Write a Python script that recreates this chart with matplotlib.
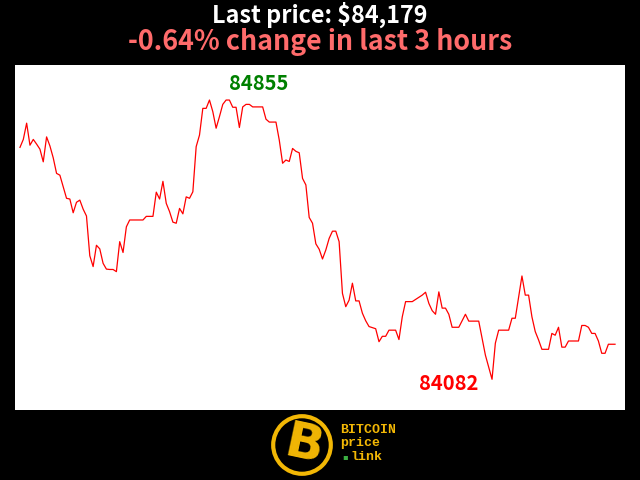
import matplotlib
matplotlib.use("Agg")
import matplotlib.pyplot as plt
from matplotlib.patches import Circle

# minutes since start of the 3 hour window, and price at each minute
minutes = [0, 1, 2, 3, 4, 5, 6, 7, 8, 9, 10, 11, 12, 13, 14, 15, 16, 17, 18, 19,
           20, 21, 22, 23, 24, 25, 26, 27, 28, 29, 30, 31, 32, 33, 34, 35, 36, 37,
           38, 39, 40, 41, 42, 43, 44, 45, 46, 47, 48, 49, 50, 51, 52, 53, 54, 55,
           56, 57, 58, 59, 60, 61, 62, 63, 64, 65, 66, 67, 68, 69, 70, 71, 72, 73,
           74, 75, 76, 77, 78, 79, 80, 81, 82, 83, 84, 85, 86, 87, 88, 89, 90, 91,
           92, 93, 94, 95, 96, 97, 98, 99, 100, 101, 102, 103, 104, 105, 107, 108,
           109, 110, 111, 112, 113, 114, 115, 116, 117, 118, 119, 121, 122, 123,
           124, 125, 126, 127, 128, 129, 130, 131, 132, 134, 135, 136, 137, 138,
           140, 142, 143, 144, 145, 146, 147, 148, 149, 150, 151, 152, 153, 154,
           155, 156, 157, 158, 159, 160, 161, 162, 163, 164, 165, 166, 167, 168,
           169, 170, 171, 172, 173, 174, 175, 176, 177, 179]
prices = [84724, 84746, 84791, 84730, 84746, 84733, 84719, 84684, 84753, 84728,
          84695, 84652, 84647, 84615, 84583, 84581, 84543, 84572, 84578, 84553,
          84534, 84424, 84394, 84453, 84443, 84403, 84387, 84386, 84386, 84380,
          84463, 84433, 84504, 84523, 84523, 84523, 84523, 84523, 84533, 84533,
          84533, 84600, 84581, 84630, 84569, 84546, 84517, 84514, 84555, 84540,
          84587, 84583, 84601, 84726, 84758, 84832, 84832, 84855, 84823, 84777,
          84809, 84843, 84855, 84855, 84835, 84835, 84779, 84836, 84843, 84843,
          84836, 84836, 84836, 84836, 84802, 84794, 84794, 84794, 84744, 84680,
          84689, 84685, 84721, 84713, 84709, 84638, 84620, 84530, 84514, 84457,
          84442, 84415, 84440, 84472, 84492, 84492, 84463, 84320, 84283, 84301,
          84348, 84299, 84299, 84265, 84244, 84228, 84222, 84186, 84201, 84201,
          84218, 84218, 84218, 84192, 84255, 84297, 84297, 84297, 84303, 84315,
          84323, 84292, 84272, 84262, 84324, 84279, 84279, 84262, 84226, 84226,
          84226, 84262, 84243, 84243, 84243, 84243, 84149, 84082, 84182, 84218,
          84218, 84218, 84218, 84251, 84251, 84309, 84368, 84315, 84315, 84255,
          84214, 84191, 84165, 84165, 84165, 84209, 84204, 84226, 84171, 84171,
          84188, 84188, 84188, 84188, 84231, 84231, 84226, 84209, 84209, 84188,
          84154, 84154, 84179, 84179]

last_price = 84179
change_pct = -0.64
hours = 3

W, H = 640, 480
fig = plt.figure(figsize=(6.4, 4.8), dpi=100, facecolor="black")

ax = fig.add_axes([15 / W, 1 - 410 / H, 610 / W, 345 / H])
ax.set_facecolor("white")
ax.plot(minutes, prices, color="red", linewidth=0.9)
ax.set_xlim(-1.5, 182)
ax.set_ylim(83997, 84952)
ax.set_xticks([])
ax.set_yticks([])
for s in ax.spines.values():
    s.set_visible(False)

# high / low labels
hi = max(prices)
lo = min(prices)
hi_x = minutes[prices.index(hi)]
lo_x = minutes[prices.index(lo)]
ax.annotate(str(hi), (hi_x, hi), xytext=(49, 17), textcoords="offset pixels",
            ha="center", va="center", color="green", fontsize=14.5,
            fontweight="bold", family="Noto Sans CJK SC")
ax.annotate(str(lo), (lo_x, lo), xytext=(-43, -4), textcoords="offset pixels",
            ha="center", va="center", color="red", fontsize=14.5,
            fontweight="bold", family="Noto Sans CJK SC")

# titles
fig.text(320 / W, 1 - 15 / H, f"Last price: ${last_price:,}", color="white",
         ha="center", va="center", fontsize=16.8, fontweight="bold",
         family="Noto Sans CJK SC")
fig.text(320 / W, 1 - 42 / H, f"{change_pct:.2f}% change in last {hours} hours",
         color="#ff6b6b", ha="center", va="center", fontsize=19.3,
         fontweight="bold", family="Noto Sans CJK SC")

# logo
gold = "#f2b705"
lax = fig.add_axes([270 / W, 1 - 477 / H, 64 / W, 64 / H])
lax.set_xlim(-1, 1)
lax.set_ylim(-1, 1)
lax.set_aspect("equal")
lax.axis("off")
lax.add_patch(Circle((0, 0), 0.9, fill=False, edgecolor=gold, linewidth=3))
lax.text(0.05, -0.02, "B", color=gold, fontsize=36, fontweight="bold",
         ha="center", va="center", rotation=-12, family="DejaVu Sans")
fig.text(340 / W, 1 - 430 / H, "BITCOIN", color=gold, fontsize=9.5,
         fontweight="bold", family="Liberation Mono", va="center")
fig.text(340 / W, 1 - 443 / H, "price", color=gold, fontsize=9.5,
         fontweight="bold", family="Liberation Mono", va="center")
fig.text(345 / W, 1 - 457 / H, "\u25aa", color="#3cb043", fontsize=6,
         family="DejaVu Sans", va="center", ha="center")
fig.text(351 / W, 1 - 457 / H, "link", color=gold, fontsize=9.5,
         fontweight="bold", family="Liberation Mono", va="center")

fig.savefig("out.png", dpi=100, facecolor="black")
